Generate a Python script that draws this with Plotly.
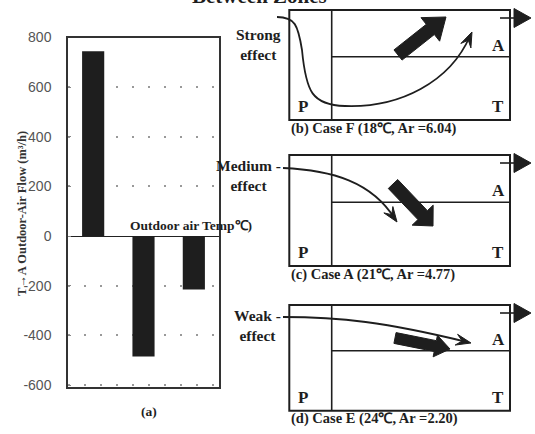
import math
import plotly.graph_objects as go

# ---------------- data ----------------
categories = ["18℃ (Case F)", "21℃ (Case A)", "24℃ (Case E)"]
flow_values = [745, -485, -215]
tick_values = [-600, -400, -200, 0, 200, 400, 600, 800]
tick_labels = ["-600", "-400", "-200", "0", "200", "400", "600", "800"]
case_captions = ["(b) Case F (18℃, Ar =6.04)",
                 "(c) Case A (21℃, Ar =4.77)",
                 "(d) Case E (24℃, Ar =2.20)"]
effect_labels = ["Strong<br>effect", "Medium -<br>effect", "Weak -<br>effect"]

W, H = 535, 434
SERIF = "Liberation Serif, Times New Roman, serif"
SANS = "Liberation Sans, Arial, sans-serif"
INK = "#1e1e1e"


def px(x, y):
    return x / W, 1 - y / H


def pt(x, y):
    a, b = px(x, y)
    return f"{a:.5f},{b:.5f}"


def poly(points):
    return "M " + " L ".join(pt(x, y) for x, y in points) + " Z"


def block_arrow(tail, tip, sw, hw, hl):
    dx, dy = tip[0] - tail[0], tip[1] - tail[1]
    L = math.hypot(dx, dy)
    ux, uy = dx / L, dy / L
    nx, ny = -uy, ux
    neck = (tip[0] - ux * hl, tip[1] - uy * hl)
    pts = [
        (tail[0] + nx * sw / 2, tail[1] + ny * sw / 2),
        (neck[0] + nx * sw / 2, neck[1] + ny * sw / 2),
        (neck[0] + nx * hw / 2, neck[1] + ny * hw / 2),
        tip,
        (neck[0] - nx * hw / 2, neck[1] - ny * hw / 2),
        (neck[0] - nx * sw / 2, neck[1] - ny * sw / 2),
        (tail[0] - nx * sw / 2, tail[1] - ny * sw / 2),
    ]
    return poly(pts)


def barb_head(tip, frm, length=15, width=11):
    dx, dy = tip[0] - frm[0], tip[1] - frm[1]
    L = math.hypot(dx, dy)
    ux, uy = dx / L, dy / L
    nx, ny = -uy, ux
    base = (tip[0] - ux * length, tip[1] - uy * length)
    notch = (tip[0] - ux * length * 0.6, tip[1] - uy * length * 0.6)
    return poly([tip,
                 (base[0] + nx * width / 2, base[1] + ny * width / 2),
                 notch,
                 (base[0] - nx * width / 2, base[1] - ny * width / 2)])


def note(text, x, y, size, xanchor="center", yanchor="middle", color=INK, **kw):
    ax, ay = px(x, y)
    return dict(x=ax, y=ay, xref="paper", yref="paper", text=text, showarrow=False,
                xanchor=xanchor, yanchor=yanchor,
                font=dict(family=SERIF, size=size, color=color, weight="bold"), **kw)


fig = go.Figure()
fig.add_trace(go.Bar(x=categories, y=flow_values, width=0.44,
                     marker=dict(color=INK, line=dict(width=0)),
                     showlegend=False, hoverinfo="skip"))

shapes = []
annotations = []

# -------- schematic diagrams --------
boxes = [(10, 120, 56.7), (155, 266, 202.3), (305, 410.7, 350.7)]
XL, XD, XR = 289.3, 331.7, 510
for i, (top, bot, hl) in enumerate(boxes):
    x0, y0 = px(XL, bot)
    x1, y1 = px(XR, top)
    shapes.append(dict(type="rect", xref="paper", yref="paper", x0=x0, x1=x1, y0=y0, y1=y1,
                       line=dict(color=INK, width=2)))
    shapes.append(dict(type="path", xref="paper", yref="paper",
                       path=f"M {pt(XD, top)} L {pt(XD, bot)}", line=dict(color=INK, width=1.6)))
    shapes.append(dict(type="path", xref="paper", yref="paper",
                       path=f"M {pt(XD, hl)} L {pt(XR, hl)}", line=dict(color=INK, width=1.6)))
    ty = top + 8
    shapes.append(dict(type="path", xref="paper", yref="paper",
                       path=f"M {pt(500, ty)} L {pt(515, ty)}", line=dict(color=INK, width=1.6)))
    shapes.append(dict(type="path", xref="paper", yref="paper",
                       path=poly([(514, ty - 9.5), (531, ty), (514, ty + 9.5)]),
                       fillcolor=INK, line=dict(color=INK, width=1)))
    annotations.append(note("P", 303, bot - 13.5, 17))
    annotations.append(note("T", 498, bot - 13.5, 17))
    annotations.append(note("A", 498, hl - 11.5, 17))
    annotations.append(note(case_captions[i], 289, bot + 8, 14.5, xanchor="left"))

# thin flow curves
curves = [
    ("M {} C {} {} {} C {} {} {} C {} {} {}".format(
        pt(277, 17), pt(295, 17), pt(298, 25), pt(302, 50),
        pt(306, 92), pt(312, 105), pt(345, 106),
        pt(400, 108), pt(450, 82), pt(470, 36)), (472, 32), (455, 70)),
    ("M {} C {} {} {}".format(pt(283, 168), pt(332, 170), pt(372, 182), pt(395, 219)),
     (397, 222), (378, 195)),
    ("M {} C {} {} {}".format(pt(283, 317), pt(340, 317), pt(385, 322), pt(467, 342)),
     (471, 343), (440, 336)),
]
for path, tip, frm in curves:
    shapes.append(dict(type="path", xref="paper", yref="paper", path=path,
                       line=dict(color=INK, width=1.8)))
    shapes.append(dict(type="path", xref="paper", yref="paper", path=barb_head(tip, frm),
                       fillcolor=INK, line=dict(color=INK, width=1)))

# thick block arrows
for tail, tip, sw, hw, hl in [((398, 55), (446, 17), 13, 30, 20),
                              ((393, 184), (433, 226), 13, 29, 15),
                              ((395, 338), (450, 349), 11, 22, 15)]:
    shapes.append(dict(type="path", xref="paper", yref="paper", path=block_arrow(tail, tip, sw, hw, hl),
                       fillcolor=INK, line=dict(color=INK, width=1)))

# effect labels
for text, (lx, ly) in zip(effect_labels, [(283, 44), (283, 175), (283, 325)]):
    annotations.append(note(text, lx, ly, 15.5, xanchor="right", align="center"))

# other texts
annotations.append(note("Between Zones", 259.5, 10, 21, yanchor="bottom"))
annotations.append(note("Outdoor air Temp℃)", 191, 225, 13.5))
annotations.append(note("(a)", 149, 411.5, 13.5))
annotations.append(note("T→A Outdoor-Air Flow (m³/h)", 22, 214, 12.5, color="#333", textangle=-90))

fig.update_layout(
    width=W, height=H,
    margin=dict(l=0, r=0, t=0, b=0, autoexpand=False),
    paper_bgcolor="white", plot_bgcolor="white",
    shapes=shapes, annotations=annotations,
    hovermode=False,
    xaxis=dict(domain=[68 / W, 219 / W], range=[-0.5, 2.5], showticklabels=False,
               showgrid=False, showline=True, mirror=True, linecolor="#333", linewidth=1.5,
               zeroline=False, ticks=""),
    yaxis=dict(domain=[1 - 387 / H, 1 - 37.5 / H], range=[-608, 800],
               tickmode="array", tickvals=tick_values, ticktext=tick_labels,
               tickfont=dict(family=SANS, size=14, color="#555"), ticklabelstandoff=12,
               showgrid=True, gridcolor="#999999", griddash="2px,14px", gridwidth=1.5,
               zeroline=True, zerolinecolor="#222", zerolinewidth=1,
               showline=True, mirror=True, linecolor="#333", linewidth=1.5,
               ticks="inside", ticklen=3, tickcolor="#888"),
    bargap=0.5,
)

fig.write_html("out.html", config={"displayModeBar": False},
               post_script="document.body.style.margin='0px';")
